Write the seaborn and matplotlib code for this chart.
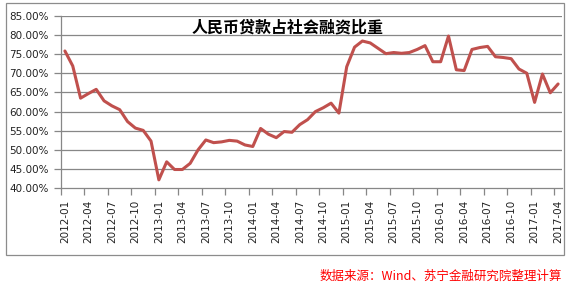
import numpy as np
import pandas as pd
import matplotlib
matplotlib.use("Agg")
import matplotlib.pyplot as plt
import seaborn as sns
from matplotlib.patches import Rectangle

# ---- data ----
months = [str(p) for p in pd.period_range("2012-01", "2017-04", freq="M")]
share = [
    75.8, 71.9, 63.5, 64.7, 65.8, 62.8, 61.5, 60.5, 57.4, 55.7, 55.1, 52.3,
    42.2, 46.9, 44.9, 44.9, 46.5, 50.0, 52.6, 51.9, 52.1, 52.5, 52.3, 51.3,
    50.9, 55.6, 54.1, 53.2, 54.8, 54.6, 56.6, 57.9, 60.0, 61.0, 62.2, 59.6,
    71.7, 76.8, 78.4, 77.9, 76.5, 75.1, 75.4, 75.2, 75.4, 76.2, 77.2, 73.0,
    73.0, 79.7, 70.9, 70.7, 76.2, 76.7, 77.0, 74.3, 74.1, 73.8, 71.1, 70.0,
    62.4, 69.8, 64.9, 67.2,
]
yticks = [40, 45, 50, 55, 60, 65, 70, 75, 80, 85]
title = "人民币贷款占社会融资比重"
source = "数据来源：Wind、苏宁金融研究院整理计算"

df = pd.DataFrame({"idx": np.arange(len(months)), "month": months, "share": share})

sns.set_theme(style="white")
plt.rcParams["font.family"] = ["DejaVu Sans", "Noto Sans CJK SC"]

fig = plt.figure(figsize=(5.68, 2.85), dpi=100)
ax = fig.add_axes([61 / 568, 1 - 188.3 / 285, 501 / 568, (188.3 - 15.7) / 285])

grid_c = "#878787"
sns.lineplot(data=df, x="idx", y="share", ax=ax, color="#C0504D", linewidth=2.2)

ax.set_xlim(-0.5, len(months) - 0.5)
ax.set_ylim(40, 85)
ax.set_yticks(yticks)
ax.set_yticklabels([f"{v:.2f}%" for v in yticks], fontsize=7.5, color="#222222")
for v in yticks[1:]:
    ax.axhline(v, color=grid_c, linewidth=0.9, zorder=0)

# tick marks between categories, labels on categories
ax.set_xticks(np.arange(-0.5, len(months) - 0.5, 3))
ax.set_xticklabels([])
ax.set_xticks(np.arange(0, len(months), 3), minor=True)
ax.set_xticklabels([months[i] for i in range(0, len(months), 3)], minor=True,
                   rotation=90, fontsize=7.5, color="#222222")
ax.tick_params(axis="x", which="major", length=5, color=grid_c, width=0.9, direction="out", bottom=True)
ax.tick_params(axis="x", which="minor", length=0, pad=8, bottom=True)
ax.tick_params(axis="y", length=5, color=grid_c, width=0.9, direction="out", left=True, pad=4)

ax.set_xlabel("")
ax.set_ylabel("")
for s in ["top", "right"]:
    ax.spines[s].set_visible(False)
for s in ["left", "bottom"]:
    ax.spines[s].set_color(grid_c)
    ax.spines[s].set_linewidth(0.9)

fig.text(288 / 568, 1 - 27 / 285, title, ha="center", va="center", fontsize=11.5,
         fontweight="bold", family=["Noto Sans CJK SC"], color="black")

fig.patches.append(Rectangle((6 / 568, 1 - 255 / 285), 558 / 568, 252 / 285,
                             transform=fig.transFigure, fill=False,
                             edgecolor="#8c8c8c", linewidth=0.9))

fig.text(562 / 568, 1 - 276 / 285, source, ha="right", va="center", fontsize=9,
         style="italic", color="#FF0000", family=["Noto Sans CJK SC", "DejaVu Sans"])

fig.savefig("out.png", dpi=100)
